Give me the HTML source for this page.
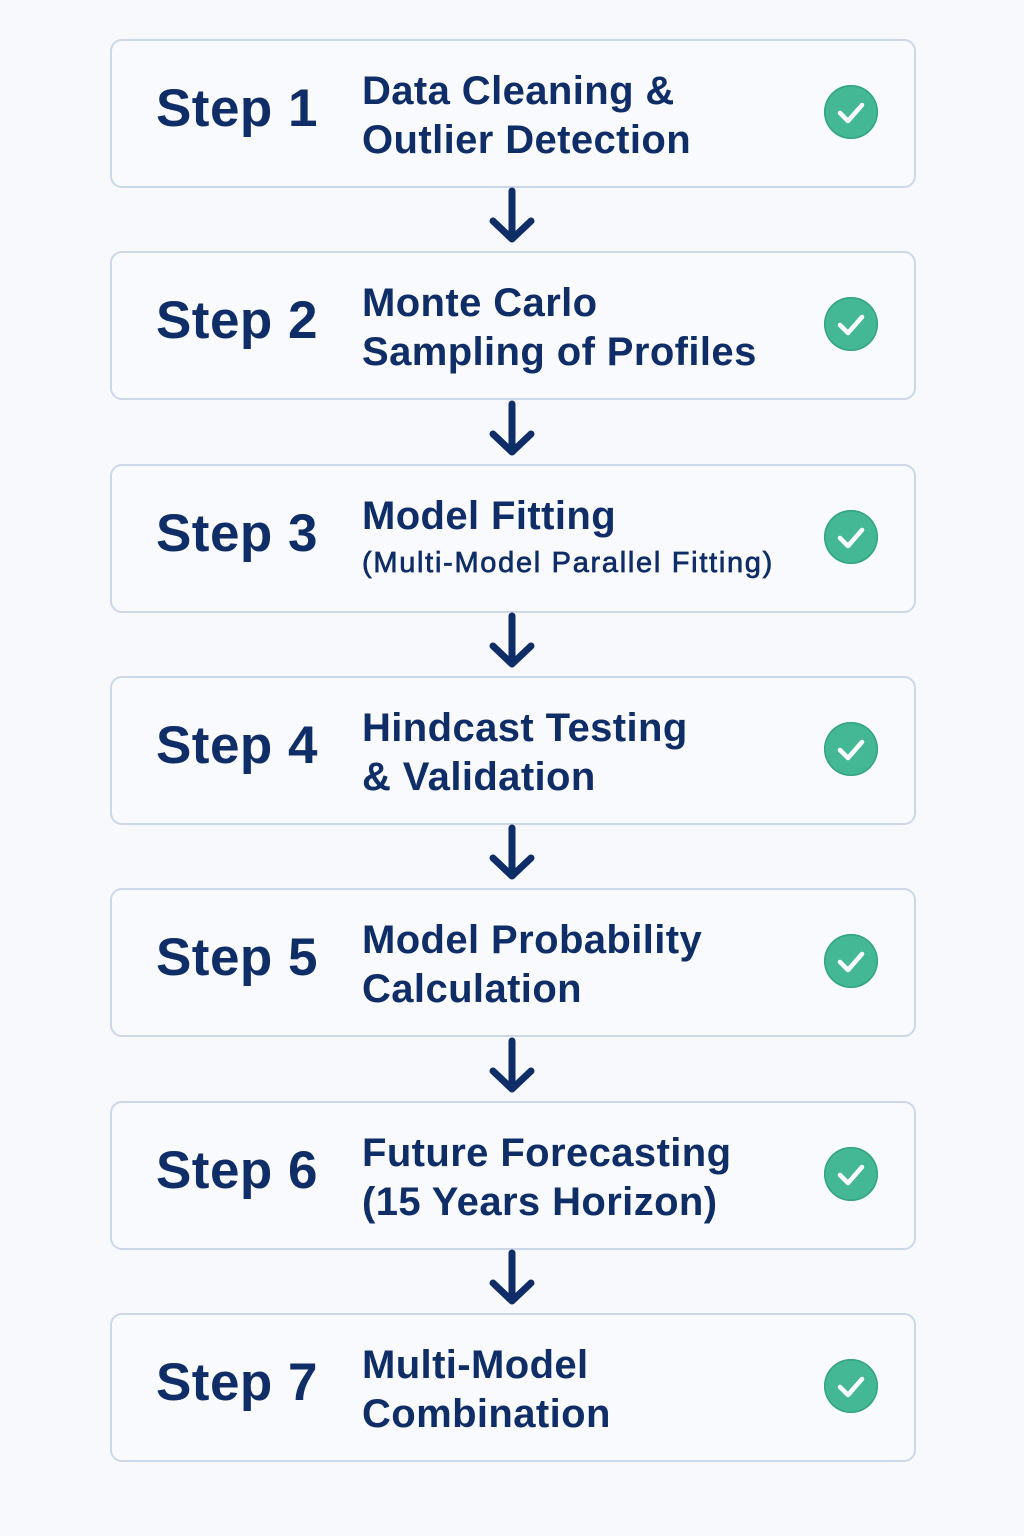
<!DOCTYPE html>
<html><head><meta charset="utf-8"><style>
html,body{margin:0;padding:0}
body{width:1024px;height:1536px;background:#f7f9fc;position:relative;overflow:hidden;font-family:"Liberation Sans",sans-serif;color:#0f2d66}
.box{position:absolute;left:110px;width:802px;height:145px;border:2px solid #ccd7ea;border-radius:12px;background:#f9fafd}
.step{position:absolute;right:596px;font-weight:bold;font-size:53px;line-height:60px;white-space:nowrap;letter-spacing:0.5px}
.t{position:absolute;left:250px;font-weight:bold;font-size:40px;line-height:49px;white-space:nowrap;letter-spacing:0.4px}
.sub{position:absolute;left:250px;top:80px;font-size:29px;line-height:34px;font-weight:normal;letter-spacing:1.7px;-webkit-text-stroke:0.7px #0f2d66;white-space:nowrap}
.chk{position:absolute;left:712px;top:44px;width:54px;height:54px;border-radius:50%;background:#44b894;box-shadow:inset 0 0 0 1.5px #35a57f}
.arrow{position:absolute;left:488px;width:48px;height:58px}
</style></head><body>

<div class="box" style="top:39px"><div class="step" style="top:38px">Step 1</div><div class="t" style="top:26px">Data Cleaning &amp;<br>Outlier Detection</div><div class="chk"><svg width="54" height="54"><path d="M16 28 L24 36 L38 20" fill="none" stroke="#fff" stroke-width="4.5" stroke-linecap="round" stroke-linejoin="round"/></svg></div></div>
<div class="box" style="top:251px"><div class="step" style="top:38px">Step 2</div><div class="t" style="top:26px">Monte Carlo<br>Sampling of Profiles</div><div class="chk"><svg width="54" height="54"><path d="M16 28 L24 36 L38 20" fill="none" stroke="#fff" stroke-width="4.5" stroke-linecap="round" stroke-linejoin="round"/></svg></div></div>
<div class="box" style="top:464px"><div class="step" style="top:38px">Step 3</div><div class="t" style="top:26px">Model Fitting</div><div class="sub">(Multi-Model Parallel Fitting)</div><div class="chk"><svg width="54" height="54"><path d="M16 28 L24 36 L38 20" fill="none" stroke="#fff" stroke-width="4.5" stroke-linecap="round" stroke-linejoin="round"/></svg></div></div>
<div class="box" style="top:676px"><div class="step" style="top:38px">Step 4</div><div class="t" style="top:26px">Hindcast Testing<br>&amp; Validation</div><div class="chk"><svg width="54" height="54"><path d="M16 28 L24 36 L38 20" fill="none" stroke="#fff" stroke-width="4.5" stroke-linecap="round" stroke-linejoin="round"/></svg></div></div>
<div class="box" style="top:888px"><div class="step" style="top:38px">Step 5</div><div class="t" style="top:26px">Model Probability<br>Calculation</div><div class="chk"><svg width="54" height="54"><path d="M16 28 L24 36 L38 20" fill="none" stroke="#fff" stroke-width="4.5" stroke-linecap="round" stroke-linejoin="round"/></svg></div></div>
<div class="box" style="top:1101px"><div class="step" style="top:38px">Step 6</div><div class="t" style="top:26px">Future Forecasting<br>(15 Years Horizon)</div><div class="chk"><svg width="54" height="54"><path d="M16 28 L24 36 L38 20" fill="none" stroke="#fff" stroke-width="4.5" stroke-linecap="round" stroke-linejoin="round"/></svg></div></div>
<div class="box" style="top:1313px"><div class="step" style="top:38px">Step 7</div><div class="t" style="top:26px">Multi-Model<br>Combination</div><div class="chk"><svg width="54" height="54"><path d="M16 28 L24 36 L38 20" fill="none" stroke="#fff" stroke-width="4.5" stroke-linecap="round" stroke-linejoin="round"/></svg></div></div>

<svg class="arrow" style="top:187px" viewBox="0 0 48 58"><path d="M24 4 V52 M5 34 L24 52 L43 34" fill="none" stroke="#0f2d66" stroke-width="7" stroke-linecap="round" stroke-linejoin="round"/></svg>
<svg class="arrow" style="top:400px" viewBox="0 0 48 58"><path d="M24 4 V52 M5 34 L24 52 L43 34" fill="none" stroke="#0f2d66" stroke-width="7" stroke-linecap="round" stroke-linejoin="round"/></svg>
<svg class="arrow" style="top:612px" viewBox="0 0 48 58"><path d="M24 4 V52 M5 34 L24 52 L43 34" fill="none" stroke="#0f2d66" stroke-width="7" stroke-linecap="round" stroke-linejoin="round"/></svg>
<svg class="arrow" style="top:824px" viewBox="0 0 48 58"><path d="M24 4 V52 M5 34 L24 52 L43 34" fill="none" stroke="#0f2d66" stroke-width="7" stroke-linecap="round" stroke-linejoin="round"/></svg>
<svg class="arrow" style="top:1037px" viewBox="0 0 48 58"><path d="M24 4 V52 M5 34 L24 52 L43 34" fill="none" stroke="#0f2d66" stroke-width="7" stroke-linecap="round" stroke-linejoin="round"/></svg>
<svg class="arrow" style="top:1249px" viewBox="0 0 48 58"><path d="M24 4 V52 M5 34 L24 52 L43 34" fill="none" stroke="#0f2d66" stroke-width="7" stroke-linecap="round" stroke-linejoin="round"/></svg>
</body></html>
